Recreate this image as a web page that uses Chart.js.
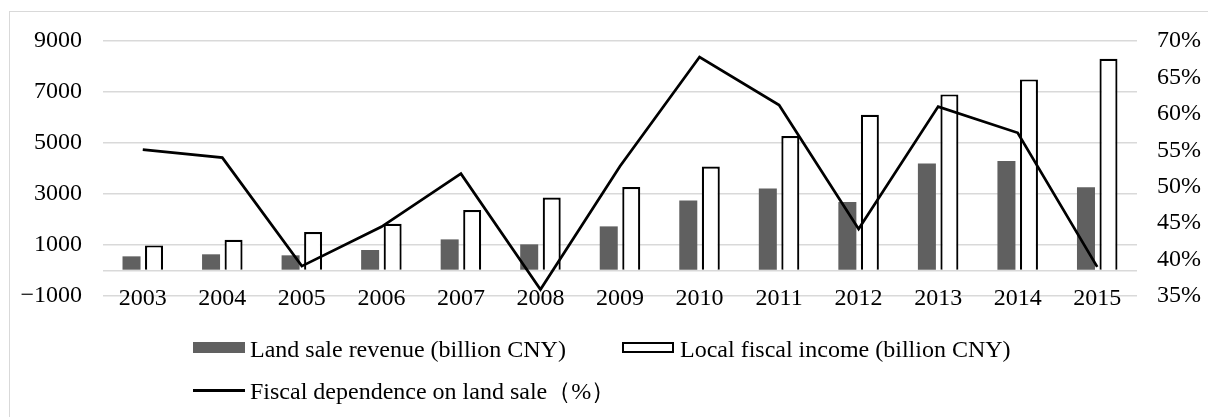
<!DOCTYPE html>
<html><head><meta charset="utf-8">
<script src="https://cdn.jsdelivr.net/npm/chart.js@4.4.1/dist/chart.umd.min.js"></script>
<style>
html,body{margin:0;padding:0;background:#fff;}
#wrap{position:relative;width:1208px;height:417px;overflow:hidden;font-family:"Liberation Serif","Times New Roman",serif;}
#frame{position:absolute;left:9px;top:11px;width:1300px;height:600px;border:1px solid #d9d9d9;box-sizing:border-box}
canvas{position:absolute;left:0;top:0}
.lg{position:absolute;font-size:24px;line-height:24px;white-space:nowrap;color:#000}
.sw{position:absolute;box-sizing:border-box}
</style></head><body>
<div id="wrap"><div id="frame"></div><canvas id="c" width="1208" height="417"></canvas><div id="legend"></div></div>
<script>
const years = ['2003','2004','2005','2006','2007','2008','2009','2010','2011','2012','2013','2014','2015'];
const landSale = [555, 635, 595, 805, 1220, 1025, 1730, 2750, 3220, 2685, 4200, 4290, 3260];
const localIncome = [985, 1205, 1510, 1835, 2370, 2865, 3270, 4080, 5270, 6110, 6905, 7495, 8300];
const dependence = [55.1, 54.0, 39.1, 44.5, 51.8, 35.9, 52.8, 67.8, 61.2, 44.2, 61.0, 57.4, 39.0];
const leftTicks = [-1000, 0, 1000, 3000, 5000, 7000, 9000];
const seriesNames = ['Land sale revenue (billion CNY)', 'Local fiscal income (billion CNY)', 'Fiscal dependence on land sale\uFF08%\uFF09'];

Chart.defaults.font.family = '"Liberation Serif","Times New Roman",serif';
Chart.defaults.font.size = 24;
Chart.defaults.color = '#000';

const chart = new Chart(document.getElementById('c'), {
  data: {
    labels: years,
    datasets: [
      {type:'bar', label: seriesNames[0], data: landSale, backgroundColor:'#606060', borderWidth:0, yAxisID:'y', order:1,
       barPercentage:0.8, categoryPercentage:0.566},
      {type:'bar', label: seriesNames[1], data: localIncome, backgroundColor:'#ffffff', borderColor:'#000', borderWidth:2.2, yAxisID:'y', order:2,
       barPercentage:0.8, categoryPercentage:0.566},
      {type:'line', label: seriesNames[2], data: dependence, borderColor:'#000', borderWidth:2.75, pointRadius:0, tension:0, yAxisID:'y2', order:0}
    ]
  },
  options: {
    responsive:false, animation:false,
    layout:{padding:{top:41, bottom:91, left:0, right:0}},
    plugins:{legend:{display:false}, tooltip:{enabled:false}},
    scales:{
      x:{
        grid:{display:false, drawTicks:false}, border:{display:false},
        ticks:{mirror:true, padding:-17.5, maxRotation:0, autoSkip:false},
        afterFit:(s)=>{s.height=30;}
      },
      y:{
        position:'left', min:-1000, max:9000,
        afterBuildTicks:(s)=>{ s.ticks = leftTicks.map(v=>({value:v})); },
        ticks:{padding:21, callback:(v)=> v===0 ? '' : (v<0 ? '\u2212'+Math.abs(v) : String(v))},
        grid:{color:'#d9d9d9', lineWidth:1.6, drawTicks:false}, border:{display:false},
        afterFit:(s)=>{s.width=103;}
      },
      y2:{
        position:'right', min:35, max:70,
        ticks:{stepSize:5, padding:20, callback:(v)=> v+'%'},
        grid:{display:false, drawTicks:false}, border:{display:false},
        afterFit:(s)=>{s.width=71;}
      }
    }
  }
});

// HTML legend built from dataset labels/styles
(function(){
  const lg = document.getElementById('legend');
  const pos = [{x:193, y:342, tx:250, ty:336.6}, {x:622, y:342, tx:680, ty:336.6}, {x:193, y:389, tx:250, ty:379}];
  chart.data.datasets.forEach((ds, i) => {
    const p = pos[i];
    const sw = document.createElement('div');
    sw.className = 'sw';
    sw.style.left = p.x + 'px';
    sw.style.width = '52px';
    if (ds.type === 'line') {
      sw.style.top = p.y + 'px'; sw.style.height = '3px'; sw.style.background = ds.borderColor;
    } else {
      sw.style.top = p.y + 'px'; sw.style.height = '11px'; sw.style.background = ds.backgroundColor;
      if (ds.borderWidth) sw.style.border = '2px solid ' + ds.borderColor;
    }
    lg.appendChild(sw);
    const t = document.createElement('div');
    t.className = 'lg';
    t.style.left = p.tx + 'px'; t.style.top = p.ty + 'px';
    t.textContent = ds.label;
    lg.appendChild(t);
  });
})();
</script>
</body></html>
